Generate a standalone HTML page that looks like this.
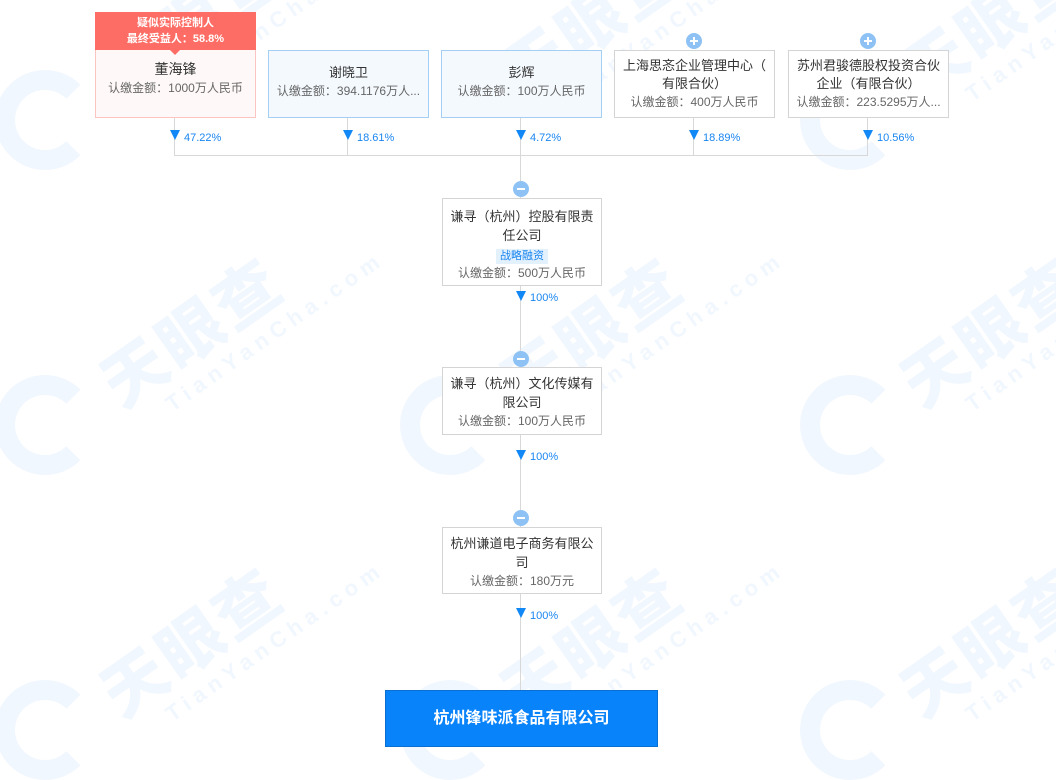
<!DOCTYPE html>
<html><head><meta charset="utf-8"><style>
body{margin:0;width:1056px;height:774px;background:#fff;position:relative;overflow:hidden;font-family:"Liberation Sans","Noto Sans CJK SC",sans-serif;}
.a{position:absolute;}
.wm{position:absolute;transform:rotate(-35deg);transform-origin:0 0;color:#f1f7fe;white-space:nowrap;}
.wm b{font-size:64px;font-weight:900;letter-spacing:4px;display:block;}
.wm i{font-style:normal;font-size:22px;font-weight:bold;letter-spacing:6px;display:block;margin-left:40px;margin-top:-8px;}
.circ{position:absolute;width:100px;height:100px;border-radius:50%;border:20px solid #f1f7fe;box-sizing:border-box;border-right-color:transparent;}
.box{position:absolute;box-sizing:border-box;border:1px solid #d4d4d4;background:#fff;text-align:center;font-size:13px;color:#333;line-height:19px;}
.sub{color:#666;font-size:12px;}
.blue{border-color:#a3cff5;background:#f4f9fe;}
.ln{position:absolute;background:#d8d8d8;}
.tri{position:absolute;width:0;height:0;border-left:5px solid transparent;border-right:5px solid transparent;border-top:10px solid #1188f6;}
.pct{position:absolute;font-size:11px;color:#1a86f0;}
.btn{position:absolute;width:16px;height:16px;border-radius:50%;background:#8ec2f5;}
.btn:before{content:"";position:absolute;left:4px;top:7px;width:8px;height:2px;background:#fff;}
.plus:after{content:"";position:absolute;left:7px;top:4px;width:2px;height:8px;background:#fff;}
</style></head><body>
<div class="wm" style="left:80px;top:40px"><b>天眼查</b><i>TianYanCha.com</i></div>
<div class="wm" style="left:480px;top:40px"><b>天眼查</b><i>TianYanCha.com</i></div>
<div class="wm" style="left:880px;top:40px"><b>天眼查</b><i>TianYanCha.com</i></div>
<div class="wm" style="left:80px;top:350px"><b>天眼查</b><i>TianYanCha.com</i></div>
<div class="wm" style="left:480px;top:350px"><b>天眼查</b><i>TianYanCha.com</i></div>
<div class="wm" style="left:880px;top:350px"><b>天眼查</b><i>TianYanCha.com</i></div>
<div class="wm" style="left:80px;top:660px"><b>天眼查</b><i>TianYanCha.com</i></div>
<div class="wm" style="left:480px;top:660px"><b>天眼查</b><i>TianYanCha.com</i></div>
<div class="wm" style="left:880px;top:660px"><b>天眼查</b><i>TianYanCha.com</i></div>
<div class="circ" style="left:-5px;top:70px"></div>
<div class="circ" style="left:-5px;top:375px"></div>
<div class="circ" style="left:-5px;top:680px"></div>
<div class="circ" style="left:400px;top:375px"></div>
<div class="circ" style="left:400px;top:680px"></div>
<div class="circ" style="left:800px;top:375px"></div>
<div class="circ" style="left:800px;top:680px"></div>
<div class="circ" style="left:800px;top:70px"></div>

<div class="ln" style="left:174px;top:117px;width:1px;height:38px"></div>
<div class="ln" style="left:347px;top:117px;width:1px;height:38px"></div>
<div class="ln" style="left:693px;top:117px;width:1px;height:38px"></div>
<div class="ln" style="left:867px;top:117px;width:1px;height:38px"></div>
<div class="ln" style="left:174px;top:155px;width:694px;height:1px"></div>
<div class="ln" style="left:520px;top:117px;width:1px;height:574px"></div>

<div class="box" style="left:95px;top:12px;width:161px;height:106px;border-color:#fbc6c2;background:#fff8f8;">
 <div style="background:#fd6d65;color:#fff;font-size:11px;font-weight:bold;line-height:16px;height:38px;padding-top:3px;box-sizing:border-box;margin:-1px -1px 0">疑似实际控制人<br>最终受益人：58.8%</div>
 <div class="a" style="left:74px;top:37px;width:0;height:0;border-left:5px solid transparent;border-right:5px solid transparent;border-top:5px solid #fd6d65"></div>
 <div style="margin-top:10px;font-size:14px">董海锋</div><div class="sub">认缴金额：1000万人民币</div>
</div>
<div class="box blue" style="left:268px;top:50px;width:161px;height:68px;padding-top:12px">谢晓卫<div class="sub">认缴金额：394.1176万人...</div></div>
<div class="box blue" style="left:441px;top:50px;width:161px;height:68px;padding-top:12px">彭辉<div class="sub">认缴金额：100万人民币</div></div>
<div class="box" style="left:614px;top:50px;width:161px;height:68px;padding-top:6px;line-height:18px">上海思忞企业管理中心（<br>有限合伙）<div class="sub">认缴金额：400万人民币</div></div>
<div class="box" style="left:788px;top:50px;width:161px;height:68px;padding-top:6px;line-height:18px">苏州君骏德股权投资合伙<br>企业（有限合伙）<div class="sub">认缴金额：223.5295万人...</div></div>
<div class="btn plus" style="left:686px;top:33px"></div>
<div class="btn plus" style="left:860px;top:33px"></div>

<div class="tri" style="left:170px;top:130px"></div><div class="pct" style="left:184px;top:132px">47.22%</div>
<div class="tri" style="left:343px;top:130px"></div><div class="pct" style="left:357px;top:132px">18.61%</div>
<div class="tri" style="left:516px;top:130px"></div><div class="pct" style="left:530px;top:132px">4.72%</div>
<div class="tri" style="left:689px;top:130px"></div><div class="pct" style="left:703px;top:132px">18.89%</div>
<div class="tri" style="left:863px;top:130px"></div><div class="pct" style="left:877px;top:132px">10.56%</div>

<div class="btn" style="left:513px;top:181px"></div>
<div class="box" style="left:442px;top:198px;width:160px;height:88px;padding-top:8px;line-height:19px">谦寻（杭州）控股有限责<br>任公司<div><span style="background:#e3f1fd;color:#1a86f0;font-size:11px;padding:0 4px;line-height:15px;display:inline-block">战略融资</span></div><div class="sub">认缴金额：500万人民币</div></div>
<div class="tri" style="left:516px;top:291px"></div><div class="pct" style="left:530px;top:292px">100%</div>

<div class="btn" style="left:513px;top:351px"></div>
<div class="box" style="left:442px;top:367px;width:160px;height:68px;padding-top:6px;line-height:19px">谦寻（杭州）文化传媒有<br>限公司<div class="sub">认缴金额：100万人民币</div></div>
<div class="tri" style="left:516px;top:450px"></div><div class="pct" style="left:530px;top:451px">100%</div>

<div class="btn" style="left:513px;top:510px"></div>
<div class="box" style="left:442px;top:527px;width:160px;height:67px;padding-top:6px;line-height:19px">杭州谦道电子商务有限公<br>司<div class="sub">认缴金额：180万元</div></div>
<div class="tri" style="left:516px;top:608px"></div><div class="pct" style="left:530px;top:610px">100%</div>

<div class="a" style="left:385px;top:690px;width:273px;height:57px;box-sizing:border-box;background:#0983fa;border:1px solid #0a6fd0;color:#fff;font-size:16px;font-weight:bold;text-align:center;line-height:55px">杭州锋味派食品有限公司</div>
</body></html>
